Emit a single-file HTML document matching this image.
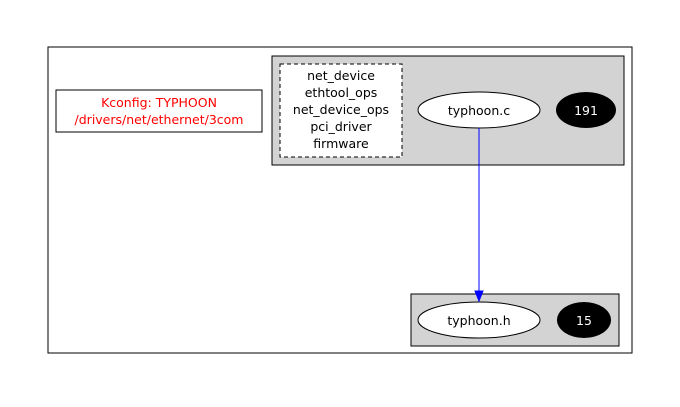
<!DOCTYPE html>
<html><head><style>body{margin:0;background:#fff}</style></head><body>
<svg width="680" height="402" xmlns="http://www.w3.org/2000/svg" font-family="DejaVu Sans, sans-serif" font-size="12.5">
<rect x="0" y="0" width="680" height="402" fill="#fff"/>
<rect x="48" y="47" width="584" height="306" fill="#fff" stroke="#000"/>
<rect x="56" y="90" width="206" height="42" fill="#fff" stroke="#000"/>
<text x="159" y="107" fill="red" text-anchor="middle">Kconfig: TYPHOON</text>
<text x="159" y="124" fill="red" text-anchor="middle">/drivers/net/ethernet/3com</text>
<rect x="272" y="56" width="352" height="109" fill="#d3d3d3" stroke="#000"/>
<rect x="280" y="64" width="122" height="93" fill="#fff" stroke="#000" stroke-dasharray="4,3"/>
<g text-anchor="middle">
<text x="341" y="80">net_device</text>
<text x="341" y="97">ethtool_ops</text>
<text x="341" y="114">net_device_ops</text>
<text x="341" y="131">pci_driver</text>
<text x="341" y="148">firmware</text>
</g>
<ellipse cx="479" cy="110" rx="61" ry="18" fill="#fff" stroke="#000"/>
<text x="479" y="115" text-anchor="middle">typhoon.c</text>
<ellipse cx="586" cy="110" rx="30" ry="18" fill="#000"/>
<text x="586" y="115" text-anchor="middle" fill="#fff">191</text>
<rect x="411" y="294" width="208" height="52" fill="#d3d3d3" stroke="#000"/>
<ellipse cx="479" cy="320" rx="61" ry="18" fill="#fff" stroke="#000"/>
<text x="479" y="325" text-anchor="middle">typhoon.h</text>
<ellipse cx="584" cy="320" rx="27" ry="18" fill="#000"/>
<text x="584" y="325" text-anchor="middle" fill="#fff">15</text>
<line x1="479" y1="128" x2="479" y2="292" stroke="blue"/>
<polygon points="475,291 483,291 479,301" fill="blue" stroke="blue"/>
</svg>
</body></html>
